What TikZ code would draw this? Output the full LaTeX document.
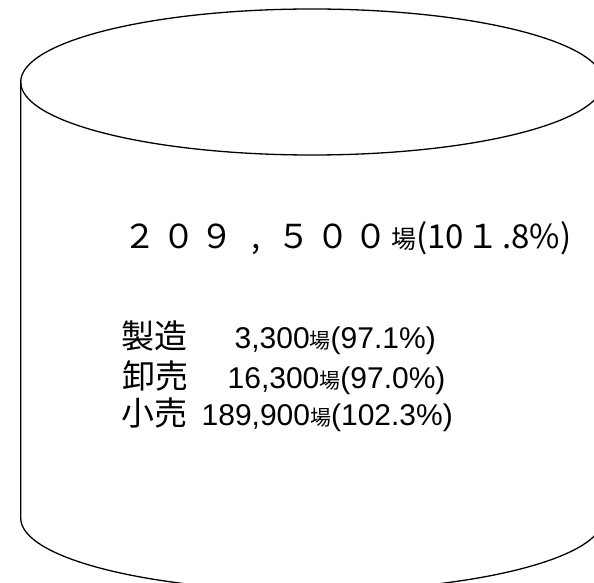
\documentclass[tikz,border=0pt]{standalone}
\usepackage{fontspec}
\setmainfont{Liberation Sans}
\newfontfamily\jpfont{Noto Sans CJK JP}
\newcommand{\slotbox}[1]{\makebox[38.5pt]{#1}}
\newcommand{\smallba}[1]{{\jpfont\fontsize{#1}{#1}\selectfont 場}}
\begin{document}
\begin{tikzpicture}[x=1pt, y=1pt, line width=1.3pt,
    every node/.style={inner sep=0pt, anchor=base west},
    big/.style={font=\jpfont\fontsize{33}{33}\selectfont},
    kind/.style={font=\jpfont\fontsize{33}{33}\selectfont},
    num/.style={font=\fontsize{30}{30}\selectfont}]
    \useasboundingbox (0,0) rectangle (594,582);
    \clip (0,0) rectangle (594,582);

    % cylinder
    \draw (312,500) ellipse [x radius=291.3, y radius=73];
    \draw (20.7,500) -- (20.7,64) arc [start angle=180, end angle=360, x radius=291.3, y radius=73] -- (603.3,500);

    % total
    \node[big] (total) at (120.25,334) {\slotbox{２}\slotbox{０}\slotbox{９}\slotbox{,}\slotbox{５}\slotbox{０}\slotbox{０}\hspace{1pt}\smallba{25}(10\makebox[38pt]{１}.8\%)};

    % by kind
    \node[kind] (seizo) at (121,234) {製造};
    \node[kind] (oroshi) at (122,194) {卸売};
    \node[kind] (kouri) at (121,157) {小売};

    \node[num] (seizonum) at (234,234) {3,300\smallba{21}(97.1\%)};
    \node[num] (oroshinum) at (227,194) {16,300\smallba{21}(97.0\%)};
    \node[num] (kourinum) at (201,157) {189,900\smallba{21}(102.3\%)};
\end{tikzpicture}
\end{document}
